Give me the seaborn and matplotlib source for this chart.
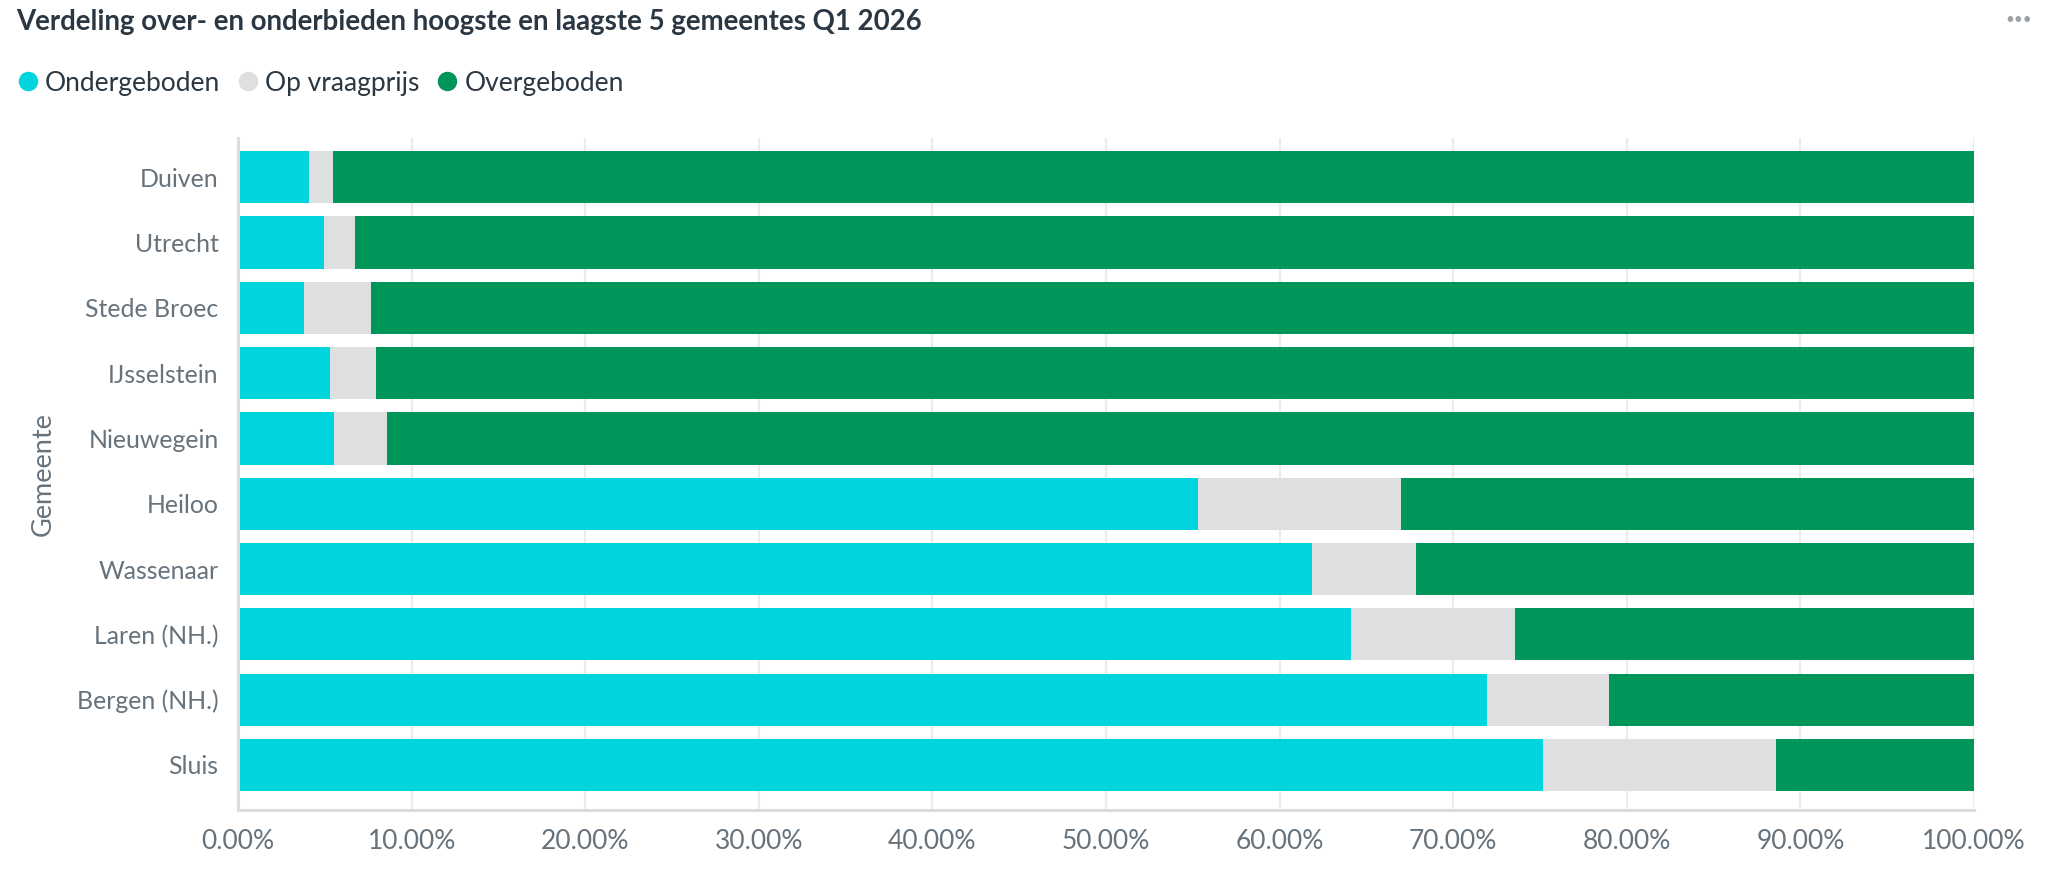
import matplotlib
matplotlib.use("Agg")
import matplotlib.pyplot as plt
from matplotlib.lines import Line2D
from matplotlib.ticker import FuncFormatter
import pandas as pd
import seaborn as sns

# data (percentages)
gemeenten = ["Duiven", "Utrecht", "Stede Broec", "IJsselstein", "Nieuwegein",
             "Heiloo", "Wassenaar", "Laren (NH.)", "Bergen (NH.)", "Sluis"]
ondergeboden = [4.09, 4.97, 3.80, 5.28, 5.55, 55.29, 61.87, 64.10, 71.95, 75.19]
op_vraagprijs = [1.38, 1.77, 3.88, 2.67, 3.01, 11.70, 5.96, 9.47, 7.02, 13.42]
overgeboden = [round(100 - o - v, 2) for o, v in zip(ondergeboden, op_vraagprijs)]

series = ["Ondergeboden", "Op vraagprijs", "Overgeboden"]
kleuren = {"Ondergeboden": "#00d4dc", "Op vraagprijs": "#dedfe1", "Overgeboden": "#00965a"}

df = pd.DataFrame({"Gemeente": gemeenten, "Ondergeboden": ondergeboden,
                   "Op vraagprijs": op_vraagprijs, "Overgeboden": overgeboden})
# cumulatieve waarden om gestapelde balken te tekenen
df["tot_onder"] = df["Ondergeboden"]
df["tot_vraag"] = df["Ondergeboden"] + df["Op vraagprijs"]
df["tot_over"] = df["tot_vraag"] + df["Overgeboden"]

sns.set_style("white")
plt.rcParams["font.family"] = ["Lato", "DejaVu Sans"]

tekst_kleur = "#66727c"
titel_kleur = "#2b3742"

fig = plt.figure(figsize=(20.56, 8.74), dpi=100)
ax = fig.add_axes([0.1158, 0.0732, 0.8443, 0.7689])
ax.set_axisbelow(True)

# van achter naar voren: totaal (groen), tot vraagprijs (grijs), onder (cyaan)
for kolom, naam in [("tot_over", "Overgeboden"), ("tot_vraag", "Op vraagprijs"), ("tot_onder", "Ondergeboden")]:
    sns.barplot(data=df, x=kolom, y="Gemeente", orient="h", color=kleuren[naam],
                width=0.8, saturation=1, linewidth=0, ax=ax)

ax.set_xlim(0, 100)
ax.set_ylim(9.69, -0.6)
ax.set_xticks(range(0, 101, 10))
ax.xaxis.set_major_formatter(FuncFormatter(lambda v, p: f"{v:.2f}%"))
ax.grid(axis="x", color="#ececec", linewidth=1.6)
ax.grid(axis="y", visible=False)
ax.tick_params(axis="both", length=0, labelcolor=tekst_kleur)
ax.tick_params(axis="x", pad=14, labelsize=19)
ax.tick_params(axis="y", pad=14, labelsize=17.9)
ax.set_xlabel("")
ax.set_ylabel("Gemeente", fontsize=19.5, color=tekst_kleur, labelpad=15)

for kant in ["top", "right"]:
    ax.spines[kant].set_visible(False)
for kant in ["left", "bottom"]:
    ax.spines[kant].set_color("#dcdcdc")
    ax.spines[kant].set_linewidth(2.2)

fig.text(0.0078, 0.975, "Verdeling over- en onderbieden hoogste en laagste 5 gemeentes Q1 2026",
         fontsize=19.9, fontweight="bold", color=titel_kleur, ha="left", va="center")
fig.text(0.982, 0.977, "•••", fontsize=11, color="#9aa0a6", ha="center", va="center")

handles = [Line2D([0], [0], marker="o", linestyle="", markersize=13,
                  markerfacecolor=kleuren[s], markeredgecolor=kleuren[s]) for s in series]
fig.legend(handles, series, loc="center left", bbox_to_anchor=(0.002, 0.905), ncol=3,
           frameon=False, fontsize=19, labelcolor=titel_kleur, handletextpad=0.15,
           columnspacing=0.55, handlelength=1.0, borderaxespad=0)

fig.savefig("out.png", dpi=100)
